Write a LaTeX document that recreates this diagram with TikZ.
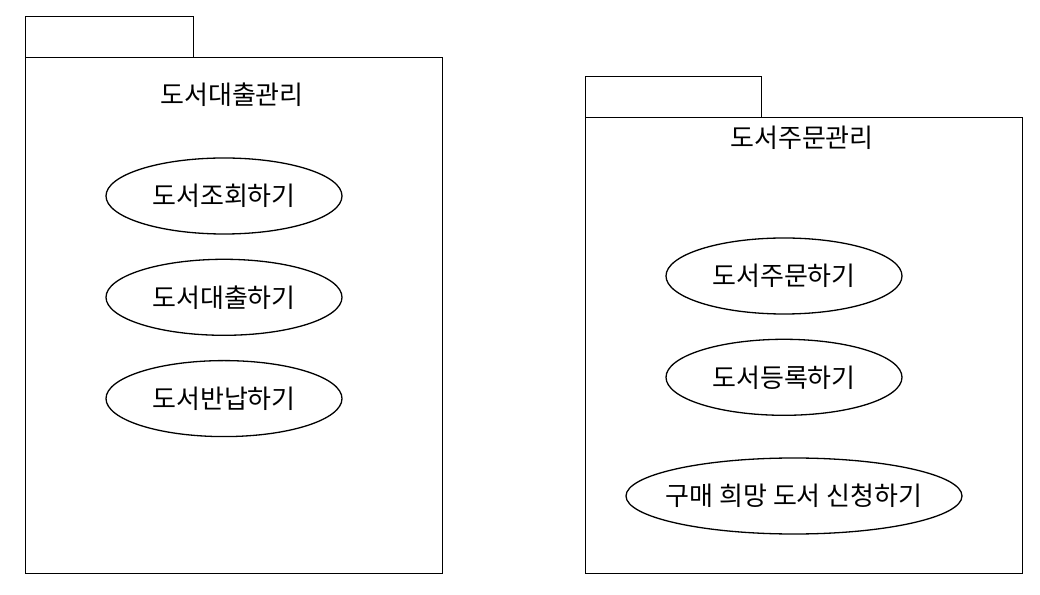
\documentclass[tikz,border=0pt]{standalone}
\usepackage{fontspec}
\setmainfont{Noto Sans CJK KR}
\usepackage{tikz}
\usetikzlibrary{positioning, shapes.geometric}

\begin{document}
\begin{tikzpicture}[
  x=1pt, y=1pt,
  pkgbody/.style={
    rectangle, draw=black, line width=1.3pt, anchor=south west,
    inner sep=0pt
  },
  pkgtab/.style={
    rectangle, draw=black, line width=1.3pt, anchor=south west,
    inner sep=0pt, minimum height=41pt
  },
  usecase/.style={
    ellipse, draw=black, line width=1.3pt, inner sep=0pt,
    minimum width=236pt, minimum height=76pt,
    font=\fontsize{26}{30}\selectfont
  },
  title/.style={font=\fontsize{26}{30}\selectfont},
]
\useasboundingbox (0,0) rectangle (1040,594);

% Package: book lending
\node[pkgtab, minimum width=168pt] (lendtab) at (25,536) {};
\node[pkgbody, minimum width=417pt, minimum height=516pt] (lendpkg) at (25,20) {};
\node[title] (lendtitle) at (232,499) {도서대출관리};

\node[usecase] (search) at (224,398) {도서조회하기};
\node[usecase, below=24pt of search] (lend) {도서대출하기};
\node[usecase, below=24pt of lend] (return) {도서반납하기};

% Package: book ordering
\node[pkgtab, minimum width=176pt] (ordertab) at (585,476) {};
\node[pkgbody, minimum width=437pt, minimum height=456pt] (orderpkg) at (585,20) {};
\node[title] (ordertitle) at (802,456) {도서주문관리};

\node[usecase] (order) at (784,318) {도서주문하기};
\node[usecase, below=24pt of order] (register) {도서등록하기};
\node[usecase, minimum width=336pt, inner xsep=-45pt] (request) at (794,98) {구매 희망 도서 신청하기};
\end{tikzpicture}
\end{document}
